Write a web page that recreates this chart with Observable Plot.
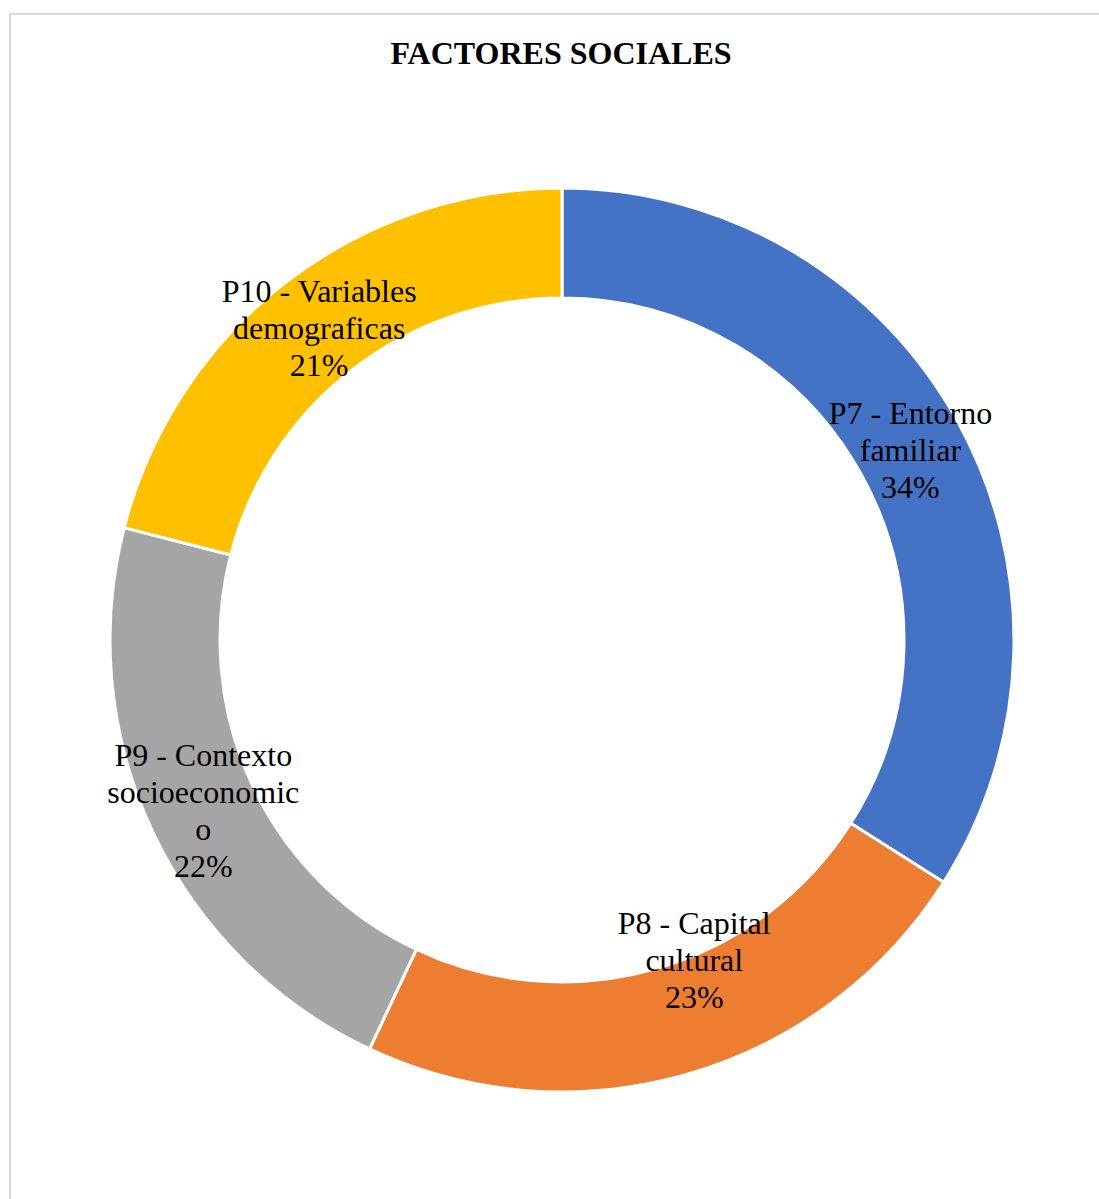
<!DOCTYPE html>
<html><head><meta charset="utf-8">
<script src="https://cdn.jsdelivr.net/npm/d3@7"></script>
<script src="https://cdn.jsdelivr.net/npm/@observablehq/plot@0.6"></script>
<style>
html,body{margin:0;padding:0;background:#fff;width:1099px;height:1199px;overflow:hidden;}
#frame{position:absolute;left:9px;top:13px;width:1200px;height:1300px;border-left:2px solid #d9d9d9;border-top:2px solid #d9d9d9;}
#title{position:absolute;left:10px;width:1102px;top:35px;text-align:center;font-family:"Liberation Serif",serif;font-weight:bold;font-size:32px;line-height:36px;color:#000;}
#chart{position:absolute;left:0;top:100px;}
</style></head><body>
<div id="frame"></div>
<div id="title">FACTORES SOCIALES</div>
<div id="chart"></div>
<script>
// ---- data ----
const categories = ["P7 - Entorno familiar", "P8 - Capital cultural", "P9 - Contexto socioeconomico", "P10 - Variables demograficas"];
const labelText = ["P7 - Entorno\nfamiliar", "P8 - Capital\ncultural", "P9 - Contexto\nsocioeconomic\no", "P10 - Variables\ndemograficas"];
const values = [34, 23, 22, 21];
const palette = ["#4472C4", "#ED7D31", "#A5A5A5", "#FFC000"];

// ---- layout ----
const innerRatio = 342 / 452;
const total = d3.sum(values);
const data = categories.map((c, i) => ({category: c, value: values[i], label: labelText[i] + "\n" + Math.round(values[i] / total * 100) + "%"}));
const arcs = d3.pie().sort(null).value(d => d.value)(data);
const rMid = (1 + innerRatio) / 2;
arcs.forEach(a => {
  const m = (a.startAngle + a.endAngle) / 2;
  a.data.lx = rMid * Math.sin(m);
  a.data.ly = rMid * Math.cos(m);
});

const donut = (index, scales) => {
  const cx = scales.x(0), cy = scales.y(0);
  const R = Math.abs(scales.x(1) - scales.x(0));
  const color = scales.color ?? d3.scaleOrdinal(categories, palette);
  const arc = d3.arc().innerRadius(R * innerRatio).outerRadius(R);
  const g = d3.create("svg:g").attr("transform", `translate(${cx},${cy})`);
  g.selectAll("path").data(arcs).join("path")
    .attr("d", arc)
    .attr("fill", d => color(d.data.category))
    .attr("stroke", "#fff")
    .attr("stroke-width", 3)
    .attr("stroke-linejoin", "miter");
  return g.node();
};

const textOpts = {x: "lx", y: "ly", text: "label", fontSize: 32, lineHeight: 1.16, fill: "#000", fontFamily: "Liberation Serif", textAnchor: "middle", lineAnchor: "middle"};
const others = data.filter(d => d.category !== categories[1]);
const p8 = data.filter(d => d.category === categories[1]);

const chart = Plot.plot({
  width: 1099,
  height: 1080,
  margin: 0,
  x: {domain: [-1, 1], range: [110, 1014], axis: null},
  y: {domain: [-1, 1], range: [992, 88], axis: null},
  color: {domain: categories, range: palette},
  style: {background: "transparent", fontFamily: "Liberation Serif"},
  marks: [
    Plot.dot(data, {x: () => 0, y: () => 0, r: 0, fill: "category"}),
    donut,
    Plot.text(others, textOpts),
    Plot.text(p8, {...textOpts, dx: 21, dy: -63})
  ]
});
document.getElementById("chart").appendChild(chart);
</script>
</body></html>
